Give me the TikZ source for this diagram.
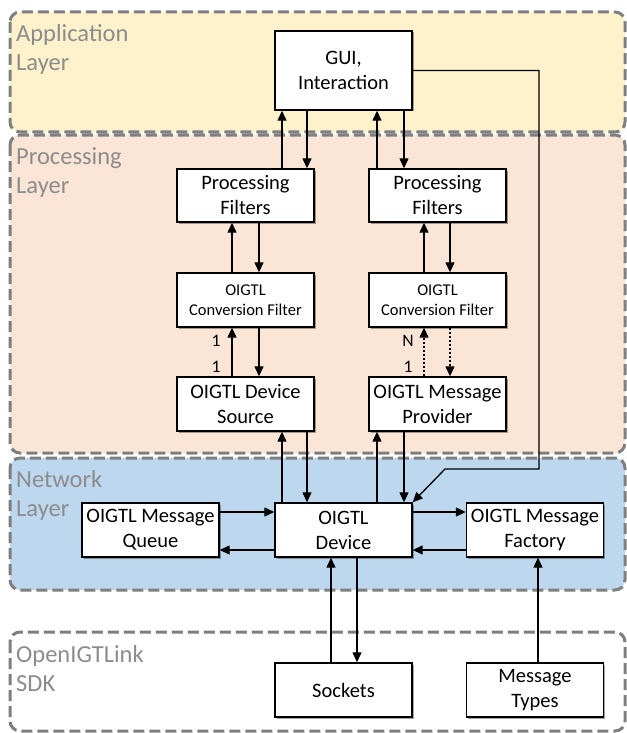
\documentclass[tikz,border=0pt]{standalone}
\usepackage{fontspec}
\setmainfont{Carlito}
\usetikzlibrary{arrows.meta,shadows}

\definecolor{appfill}{HTML}{FEF2CC}
\definecolor{procfill}{HTML}{FBE5D6}
\definecolor{netfill}{HTML}{BDD7EE}
\definecolor{tierline}{HTML}{7F7F7F}
\definecolor{tiertext}{HTML}{8C8C8C}

\begin{document}
\begin{tikzpicture}[x=1pt,y=-1pt,
  tierbox/.style={draw=tierline, line width=3pt, dash pattern=on 11pt off 5pt, rounded corners=10pt},
  tierlabel/.style={anchor=north west, inner sep=0pt, align=left, text=tiertext,
    font=\fontsize{24.5}{29}\selectfont},
  blk/.style={draw=black, line width=1.4pt, fill=white, minimum width=137pt,
    minimum height=54pt, align=center, inner sep=2pt, font=\fontsize{20.5}{25}\selectfont,
    drop shadow={shadow xshift=1.5pt, shadow yshift=-1.5pt, opacity=0.35, fill=black}},
  smallblk/.style={blk, font=\fontsize{16.5}{20}\selectfont},
  arr/.style={line width=1.3pt, -{Triangle[length=10pt,width=9pt]}},
  dotarr/.style={arr, dash pattern=on 2pt off 2pt},
  mult/.style={inner sep=0pt, font=\fontsize{17.5}{17.5}\selectfont}
]
\useasboundingbox (0,0) rectangle (626,733);

% layer bands
\draw[tierbox, fill=appfill]  (10,12)  rectangle (625,132);
\draw[tierbox, fill=procfill] (10,135) rectangle (625,453);
\draw[tierbox, fill=netfill]  (10,458) rectangle (625,590);
\draw[tierbox, fill=white]    (10,632) rectangle (625,731);

\node[tierlabel] (lapp)  at (16,24)  {Application\\Layer};
\node[tierlabel] (lproc) at (16,147) {Processing\\Layer};
\node[tierlabel] (lnet)  at (16,470) {Network\\Layer};
\node[tierlabel] (lsdk)  at (16,645) {OpenIGTLink\\SDK};

% components
\node[blk, minimum height=79pt] (gui) at (343.5,70.5) {GUI,\\Interaction};
\node[blk, minimum height=53pt] (pfl) at (245.5,195.5) {Processing\\Filters};
\node[blk, minimum height=53pt] (pfr) at (437.5,195.5) {Processing\\Filters};
\node[smallblk] (cfl) at (245.5,300) {OIGTL\\Conversion Filter};
\node[smallblk] (cfr) at (437.5,300) {OIGTL\\Conversion Filter};
\node[blk] (dsrc) at (245.5,404) {OIGTL Device\\Source};
\node[blk] (mprov) at (437.5,404) {OIGTL Message\\Provider};
\node[blk] (queue) at (150.5,530) {OIGTL Message\\Queue};
\node[blk] (dev) at (343.5,530) {OIGTL\\Device};
\node[blk] (fact) at (535,530) {OIGTL Message\\Factory};
\node[blk] (sock) at (343.5,690) {Sockets};
\node[blk] (types) at (535,690) {Message\\Types};

% connector columns
\coordinate (xa) at (282,0);
\coordinate (xb) at (307,0);
\coordinate (xc) at (377,0);
\coordinate (xd) at (404,0);
\coordinate (xe) at (232,0);
\coordinate (xf) at (259,0);
\coordinate (xg) at (424,0);
\coordinate (xh) at (450,0);
\coordinate (xi) at (331,0);
\coordinate (xj) at (357,0);
\coordinate (xk) at (538,0);
% connector rows
\coordinate (ya) at (0,512);
\coordinate (yb) at (0,550);

% GUI <-> processing filters
\draw[arr] (pfl.north -| xa) -- (gui.south -| xa);
\draw[arr] (gui.south -| xb) -- (pfl.north -| xb);
\draw[arr] (pfr.north -| xc) -- (gui.south -| xc);
\draw[arr] (gui.south -| xd) -- (pfr.north -| xd);

% processing filters <-> conversion filters
\draw[arr] (cfl.north -| xe) -- (pfl.south -| xe);
\draw[arr] (pfl.south -| xf) -- (cfl.north -| xf);
\draw[arr] (cfr.north -| xg) -- (pfr.south -| xg);
\draw[arr] (pfr.south -| xh) -- (cfr.north -| xh);

% conversion filters <-> device source / message provider
\draw[arr] (dsrc.north -| xe) -- (cfl.south -| xe);
\draw[arr] (cfl.south -| xf) -- (dsrc.north -| xf);
\draw[dotarr] (mprov.north -| xg) -- (cfr.south -| xg);
\draw[dotarr] (cfr.south -| xh) -- (mprov.north -| xh);

\node[mult] (m1) at (216,341) {1};
\node[mult] (m2) at (216,367) {1};
\node[mult] (m3) at (408,341) {N};
\node[mult] (m4) at (408,367) {1};

% source / provider <-> device
\draw[arr] (dev.north -| xa) -- (dsrc.south -| xa);
\draw[arr] (dsrc.south -| xb) -- (dev.north -| xb);
\draw[arr] (dev.north -| xc) -- (mprov.south -| xc);
\draw[arr] (mprov.south -| xd) -- (dev.north -| xd);

% GUI direct link to device
\coordinate (g1) at (539,70.5);
\coordinate (g2) at (539,469);
\coordinate (g3) at (445,469);
\draw[arr] (gui.east) -- (g1) -- (g2) -- (g3) -- (dev.north east);

% network layer links
\draw[arr] (queue.east |- ya) -- (dev.west |- ya);
\draw[arr] (dev.west |- yb) -- (queue.east |- yb);
\draw[arr] (dev.east |- ya) -- (fact.west |- ya);
\draw[arr] (fact.west |- yb) -- (dev.east |- yb);

% SDK links
\draw[arr] (sock.north -| xi) -- (dev.south -| xi);
\draw[arr] (dev.south -| xj) -- (sock.north -| xj);
\draw[arr] (types.north -| xk) -- (fact.south -| xk);
\end{tikzpicture}
\end{document}
